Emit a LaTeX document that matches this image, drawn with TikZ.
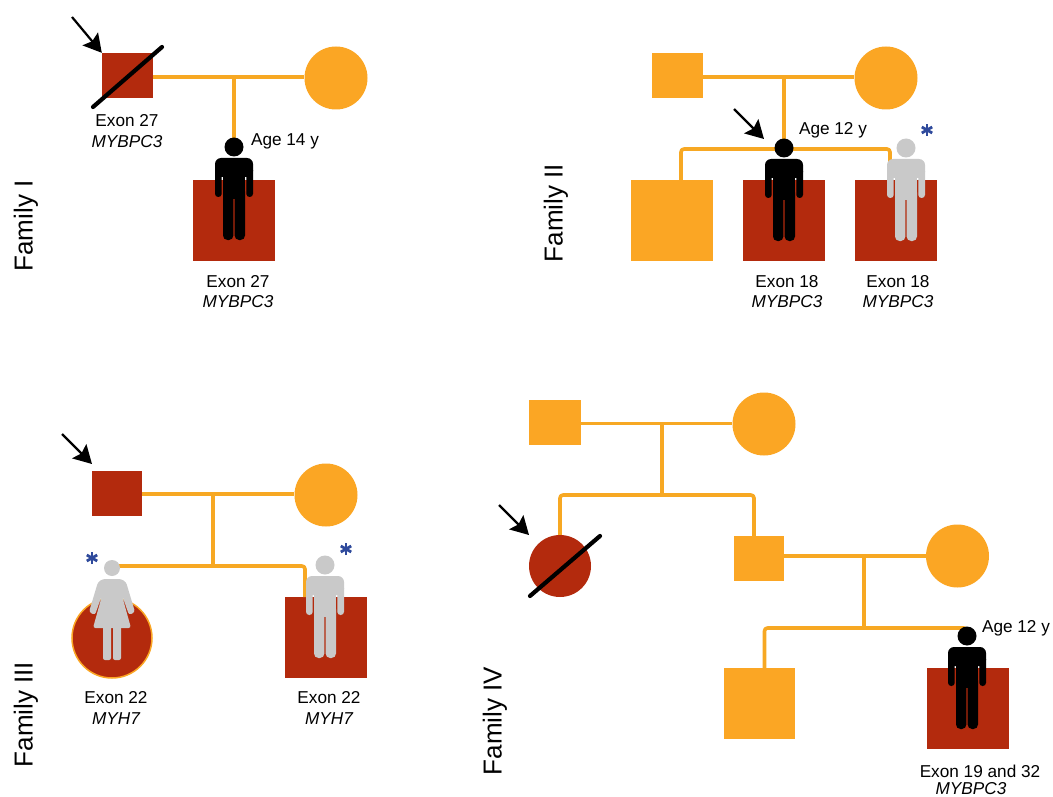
\documentclass[tikz,border=0pt]{standalone}
\usepackage{fontspec}
\setmainfont{Liberation Sans}
\usetikzlibrary{arrows.meta,calc}
\definecolor{pedred}{HTML}{B32A0D}
\definecolor{pedorange}{HTML}{FBA624}
\definecolor{lineorange}{HTML}{F7A823}
\definecolor{pedgrey}{HTML}{C9C9C9}
\definecolor{pedblue}{HTML}{2F4A9C}
\tikzset{
  smallsq/.style={rectangle,fill=pedorange,inner sep=0pt,minimum width=51pt,minimum height=45pt},
  redsmall/.style={smallsq,fill=pedred},
  bigsq/.style={rectangle,fill=pedorange,inner sep=0pt,minimum width=82pt,minimum height=81pt},
  redbig/.style={bigsq,fill=pedred},
  mate/.style={circle,fill=pedorange,inner sep=0pt,minimum size=63pt},
  bond/.style={draw=lineorange,line width=3.6pt,line join=round,rounded corners=3pt},
  slash/.style={draw=black,line width=4.2pt,line cap=round},
  proband/.style={draw=black,line width=2.2pt,-{Stealth[length=18pt,width=20pt,inset=3pt]}},
  lab/.style={font=\fontsize{17.2}{18}\selectfont,inner sep=0pt,anchor=center},
  gene/.style={lab,font=\fontsize{17.2}{18}\selectfont\itshape},
  fam/.style={font=\fontsize{26}{28}\selectfont,inner sep=0pt,rotate=90,anchor=center},
  man/.pic={
    \fill[pic actions] (0,0) circle (9.5);
    \fill[pic actions,rounded corners=6pt] (-19,11) rectangle (19,30);
    \fill[pic actions,rounded corners=3.2pt] (-19,20) rectangle (-12.3,50);
    \fill[pic actions,rounded corners=3.2pt] (12.3,20) rectangle (19,50);
    \fill[pic actions] (-11,15) rectangle (11,52);
    \fill[pic actions,rounded corners=4.5pt] (-11,40) rectangle (-0.6,93);
    \fill[pic actions,rounded corners=4.5pt] (0.6,40) rectangle (11,93);
  },
  woman/.pic={
    \fill[pic actions] (0,0) circle (8);
    \fill[pic actions,rounded corners=2.5pt] (-9,11) -- (9,11) -- (14,14) -- (23,44) -- (17,47) -- (9,24) -- (19,60) -- (-19,60) -- (-9,24) -- (-17,47) -- (-23,44) -- (-14,14) -- cycle;
    \fill[pic actions,rounded corners=2pt] (-9,55) rectangle (-1,92);
    \fill[pic actions,rounded corners=2pt] (1,55) rectangle (9,92);
  },
  star/.pic={
    \foreach \a in {90,30,-30}{
      \draw[draw=pedblue,line width=2.8pt] (\a:6) -- (\a+180:6);
    }
  }
}
\begin{document}
\begin{tikzpicture}[x=1pt,y=-1pt]
\useasboundingbox (0,0) rectangle (1053,797);
\fill[white] (0,0) rectangle (1053,797);

% Family I
\node[redsmall] (a1) at (127.5,75.5) {};
\node[mate] (a2) at (336,78) {};
\node[redbig] (a3) at (234,220.5) {};
\coordinate (a3h) at (234,147);
\coordinate (aj) at (234,77);
\draw[bond] (a1.east |- aj) -- (a2.west |- aj);
\draw[bond] (aj) -- (a3h);
\pic[fill=black] at (a3h) {man};
\coordinate (a1s) at (93,107);
\coordinate (a1e) at (162,47);
\draw[slash] (a1s) -- (a1e);
\coordinate (a1p) at (72,17);
\draw[proband] (a1p) -- (a1.north west);
\node[lab] (t1) at (127,121) {Exon 27};
\node[gene] (t2) at (127,142) {MYBPC3};
\node[lab] (t3) at (285,141) {Age 14 y};
\node[lab] (t4) at (238,282) {Exon 27};
\node[gene] (t5) at (238,302) {MYBPC3};
\node[fam] (f1) at (26,226) {Family I};

% Family II
\node[smallsq] (b1) at (677.5,75.5) {};
\node[mate] (b2) at (886,78) {};
\node[bigsq] (b3) at (672,220.5) {};
\node[redbig] (b4) at (784,220.5) {};
\node[redbig] (b5) at (896,220.5) {};
\coordinate (b4h) at (784,148);
\coordinate (b5h) at (906,148);
\coordinate (bj) at (784,77);
\coordinate (bk) at (784,149);
\draw[bond] (b1.east |- bj) -- (b2.west |- bj);
\draw[bond] (bj) -- (b4h);
\draw[bond] (681,180) |- (bk) -| (890,180);
\pic[fill=black] at (b4h) {man};
\pic[fill=pedgrey] at (b5h) {man};
\pic at (927,130) {star};
\coordinate (b4p) at (734,109);
\coordinate (b4q) at (764,139);
\draw[proband] (b4p) -- (b4q);
\node[lab] (t6) at (833,130) {Age 12 y};
\node[lab] (t7) at (787,282) {Exon 18};
\node[gene] (t8) at (787,302) {MYBPC3};
\node[lab] (t9) at (898,282) {Exon 18};
\node[gene] (t10) at (898,302) {MYBPC3};
\node[fam] (f2) at (556,213) {Family II};

% Family III
\node[redsmall,minimum width=50pt] (c1) at (117,493.5) {};
\node[mate] (c2) at (326,495) {};
\node[circle,fill=pedred,draw=pedorange,line width=1.5pt,inner sep=0pt,minimum size=80pt] (c3) at (112,638) {};
\node[redbig] (c4) at (326,637.5) {};
\coordinate (c3h) at (112,568);
\coordinate (c4h) at (325,565);
\coordinate (cj) at (213,494);
\coordinate (ck) at (213,566);
\draw[bond] (c1.east |- cj) -- (c2.west |- cj);
\draw[bond] (cj) -- (ck);
\draw[bond] (c3h) -- (c3h |- ck) -- (ck) -| (305,597);
\pic[fill=pedgrey] at (c3h) {woman};
\pic[fill=pedgrey] at (c4h) {man};
\pic at (92,558) {star};
\pic at (346,549) {star};
\coordinate (c1p) at (62,434);
\coordinate (c1q) at (92,464);
\draw[proband] (c1p) -- (c1q);
\node[lab] (t11) at (116,698) {Exon 22};
\node[gene] (t12) at (116,719) {MYH7};
\node[lab] (t13) at (329,698) {Exon 22};
\node[gene] (t14) at (329,719) {MYH7};
\node[fam] (f3) at (26,714.5) {Family III};

% Family IV
\node[smallsq,minimum width=52pt] (d1) at (555,422.5) {};
\node[mate] (d2) at (764,424) {};
\node[circle,fill=pedred,inner sep=0pt,minimum size=62pt] (d3) at (560,566) {};
\node[smallsq,minimum width=50pt] (d4) at (759,558.5) {};
\node[mate] (d5) at (957.5,556) {};
\node[bigsq,minimum width=71pt,minimum height=71pt] (d6) at (759.5,703.5) {};
\node[redbig] (d7) at (967.5,708.5) {};
\coordinate (d7h) at (967,636);
\coordinate (dj) at (662,423.5);
\coordinate (dk) at (662,495);
\coordinate (dl) at (864,556);
\coordinate (dm) at (864,628);
\draw[bond] (d1.east |- dj) -- (d2.west |- dj);
\draw[bond] (dj) -- (dk);
\draw[bond] (d3.north) |- (dk) -| ([xshift=-5pt]d4.north);
\draw[bond] (d4.east |- dl) -- (d5.west |- dl);
\draw[bond] (dl) -- (dm);
\draw[bond] ([xshift=5pt]d6.north) |- (dm) -| (d7h);
\pic[fill=black] at (d7h) {man};
\coordinate (d3s) at (530,596);
\coordinate (d3e) at (600,536);
\draw[slash] (d3s) -- (d3e);
\coordinate (d3p) at (499,505);
\coordinate (d3q) at (529,535);
\draw[proband] (d3p) -- (d3q);
\node[lab] (t15) at (1016,628) {Age 12 y};
\node[lab] (t16) at (980,771) {Exon 19 and 32};
\node[gene] (t17) at (971,788.5) {MYBPC3};
\node[fam] (f4) at (495,721) {Family IV};
\end{tikzpicture}
\end{document}
